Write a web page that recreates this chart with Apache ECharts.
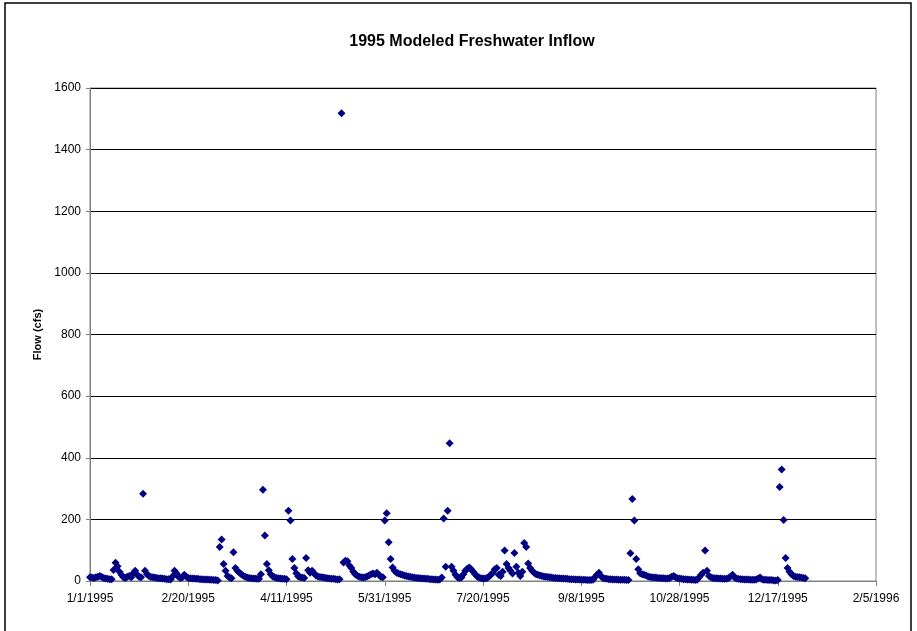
<!DOCTYPE html>
<html>
<head>
<meta charset="utf-8">
<title>1995 Modeled Freshwater Inflow</title>
<script src="https://cdn.jsdelivr.net/npm/echarts@6/dist/echarts.min.js"></script>
<style>
  html, body { margin: 0; padding: 0; background: #fff; }
  #chart { width: 917px; height: 631px; }
</style>
</head>
<body>
<div id="chart"></div>
<script>
// daily flow, 1/1/1995 .. 12/31/1995 (cfs)
const startYear = 1995
const flow = [
  12, 11, 10, 12, 14, 16, 13, 10, 8, 7,
  6, 6, 36, 59, 48, 30, 20, 12, 10, 14,
  16, 12, 25, 33, 20, 14, 12, 283, 33, 22,
  16, 13, 12, 11, 10, 9, 9, 8, 7, 6,
  6, 5, 15, 33, 25, 14, 10, 12, 20, 14,
  10, 9, 8, 8, 7, 7, 6, 6, 5, 5,
  5, 4, 4, 3, 3, 2, 110, 135, 55, 33,
  16, 11, 9, 93, 42, 33, 27, 22, 17, 14,
  11, 10, 9, 8, 8, 7, 7, 22, 296, 148,
  55, 35, 22, 15, 12, 10, 9, 8, 7, 7,
  6, 228, 196, 71, 42, 25, 15, 12, 11, 10,
  75, 35, 27, 33, 25, 18, 15, 13, 12, 11,
  10, 9, 8, 7, 7, 6, 5, 6, 1518, 60,
  66, 64, 50, 42, 30, 22, 17, 14, 12, 11,
  12, 15, 18, 22, 24, 22, 27, 20, 14, 12,
  196, 220, 126, 71, 44, 33, 27, 24, 22, 20,
  18, 16, 15, 14, 12, 11, 10, 10, 9, 8,
  8, 7, 7, 6, 6, 5, 5, 4, 5, 11,
  203, 46, 228, 447, 46, 33, 20, 12, 10, 11,
  22, 33, 40, 44, 38, 30, 22, 15, 11, 9,
  8, 8, 10, 14, 20, 27, 38, 42, 20, 16,
  30, 99, 55, 42, 33, 24, 91, 46, 27, 16,
  30, 123, 110, 57, 42, 33, 27, 22, 20, 18,
  16, 15, 14, 13, 12, 11, 10, 10, 9, 9,
  8, 8, 7, 7, 6, 6, 6, 5, 5, 5,
  4, 4, 4, 3, 3, 3, 4, 13, 20, 27,
  16, 10, 8, 7, 6, 6, 5, 5, 5, 4,
  4, 4, 4, 3, 3, 90, 266, 196, 71, 38,
  25, 22, 20, 18, 15, 13, 12, 11, 11, 10,
  10, 9, 9, 8, 8, 10, 14, 16, 12, 9,
  8, 7, 6, 6, 5, 5, 4, 4, 3, 4,
  12, 20, 27, 99, 33, 16, 12, 10, 9, 9,
  8, 8, 7, 7, 7, 10, 15, 20, 11, 8,
  7, 6, 6, 5, 5, 5, 4, 4, 4, 5,
  8, 11, 6, 4, 4, 3, 3, 3, 2, 2,
  3, 305, 362, 198, 75, 42, 30, 22, 16, 14,
  13, 12, 11, 10, 9
]
const yTicks = [0, 200, 400, 600, 800, 1000, 1200, 1400, 1600]
const xDays = [0, 50, 100, 150, 200, 250, 300, 350, 400] // days from 1/1/1995

const dayMs = 86400000
const t0 = Date.UTC(startYear, 0, 1)
function dayLabel (v) {
  const d = new Date(t0 + v * dayMs)
  return (d.getUTCMonth() + 1) + '/' + d.getUTCDate() + '/' + d.getUTCFullYear()
}

let seriesData = []
for (let i = 0; i < flow.length; i++) {
  seriesData.push([i, flow[i]])
}

const font = 'Liberation Sans, Arial, sans-serif'
const chart = echarts.init(document.getElementById('chart'))
const option = {
  animation: false,
  backgroundColor: '#fff',
  textStyle: { fontFamily: font },
  title: {
    text: '1995 Modeled Freshwater Inflow',
    left: 467,
    top: 29,
    textAlign: 'center',
    textStyle: { fontSize: 16, fontWeight: 'bold', color: '#000', fontFamily: font }
  },
  graphic: [{
    type: 'rect',
    shape: { x: 5, y: 3, width: 906, height: 640 },
    style: { fill: 'none', stroke: '#000', lineWidth: 1.5 },
    silent: true
  }],
  grid: {
    left: 90,
    right: 41,
    top: 88,
    bottom: 50,
    show: true,
    borderColor: '#808080',
    borderWidth: 1
  },
  xAxis: {
    type: 'value',
    min: xDays[0],
    max: xDays[xDays.length - 1],
    interval: 50,
    axisLine: { show: true, lineStyle: { color: '#808080', width: 1 } },
    axisTick: { show: true, inside: false, length: 5, lineStyle: { color: '#808080' } },
    splitLine: { show: false },
    axisLabel: {
      color: '#000',
      fontSize: 12,
      margin: 12,
      formatter: function (v) { return dayLabel(v) }
    }
  },
  yAxis: {
    type: 'value',
    min: yTicks[0],
    max: yTicks[yTicks.length - 1],
    interval: 200,
    name: 'Flow (cfs)',
    nameLocation: 'middle',
    nameGap: 46,
    nameTextStyle: { fontSize: 11, fontWeight: 'bold', color: '#000' },
    axisLine: { show: true, lineStyle: { color: '#808080', width: 1 } },
    axisTick: { show: true, inside: false, length: 4, lineStyle: { color: '#808080' } },
    splitLine: { show: true, lineStyle: { color: '#000', width: 1 } },
    axisLabel: {
      color: '#000',
      fontSize: 12,
      margin: 9,
      formatter: function (v) { return String(v) }
    }
  },
  series: [{
    type: 'scatter',
    name: 'Flow',
    symbol: 'diamond',
    symbolSize: 8,
    itemStyle: { color: '#000080', opacity: 1 },
    data: seriesData
  }]
}
chart.setOption(option)
</script>
</body>
</html>
